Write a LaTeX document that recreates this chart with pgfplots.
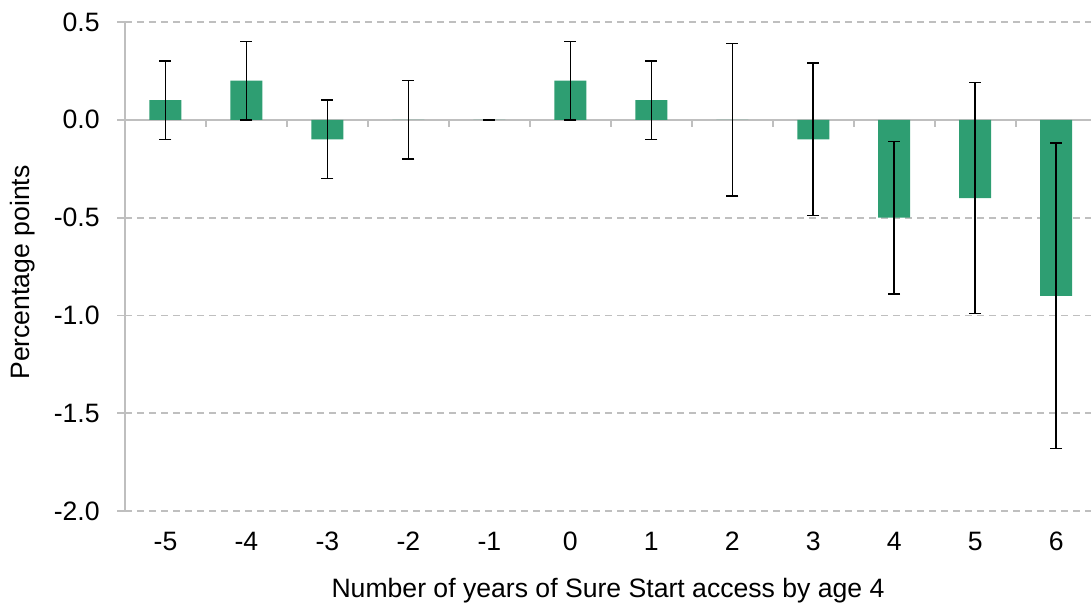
\documentclass[border=0pt]{standalone}
\usepackage{pgfplots}
\pgfplotsset{compat=1.18}
\usepackage{fontspec}
\setmainfont{Liberation Sans}
\definecolor{barg}{HTML}{2E9E72}
\definecolor{axg}{HTML}{BFBFBF}

\pgfplotstableread{
x  y     ep    em
0  0.1   0.2   0.2
1  0.2   0.2   0.2
2  -0.1  0.2   0.2
3  0.0   0.2   0.2
4  0.0   0.0   0.0
5  0.2   0.2   0.2
6  0.1   0.2   0.2
7  0.0   0.39  0.39
8  -0.1  0.39  0.39
9  -0.5  0.39  0.39
10 -0.4  0.59  0.59
11 -0.9  0.78  0.78
}\sures

\begin{document}
\begin{tikzpicture}
\useasboundingbox (-62.5pt,-45.5pt) rectangle (483pt,255.5pt);
\begin{axis}[
    at={(0,0)}, anchor=south west,
    scale only axis, width=483pt, height=244.5pt,
    xmin=-0.5, xmax=11.43, ymin=-2, ymax=0.5,
    font=\fontsize{13.3}{16}\selectfont,
    axis lines*=left,
    x axis line style={draw=none},
    y axis line style={axg, line width=0.9pt},
    tick align=outside,
    major tick length=4pt,
    xtick={0,...,11},
    xticklabels={-5,-4,-3,-2,-1,0,1,2,3,4,5,6},
    xtick style={draw=none},
    ytick={-2,-1.5,-1,-0.5,0.5},
    yticklabels={-2.0,-1.5,-1.0,-0.5,0.5},
    ytick style={axg, line width=0.9pt},
    extra y ticks={0},
    extra y tick labels={0.0},
    extra y tick style={grid=major, major grid style={solid, axg, line width=0.9pt}},
    ymajorgrids,
    major grid style={axg, line width=0.9pt, dash pattern=on 3.5pt off 2.5pt},
    yticklabel style={inner sep=0pt, anchor=east, xshift=-8.5pt},
    xticklabel style={inner sep=0pt, anchor=north, yshift=-6.5pt},
    xlabel={Number of years of Sure Start access by age 4},
    xlabel style={at={(axis description cs:0.5,0)}, anchor=base, inner sep=0pt, yshift=-43pt},
    ylabel={Percentage points},
    ylabel style={at={(axis description cs:-0.119,0.5)}, anchor=north, inner sep=0pt, xshift=-3pt},
    clip=false,
]
\addplot[ybar, bar width=16pt, fill=barg, draw=none,
    error bars/.cd, y dir=both, y explicit,
    error bar style={black, line width=0.8pt},
    error mark options={black, mark size=3pt, line width=0.8pt, rotate=90}]
    table[x=x, y=y, y error plus=ep, y error minus=em] {\sures};
\pgfplotsinvokeforeach{0.5,1.5,2.5,3.5,4.5,5.5,6.5,7.5,8.5,9.5,10.5}{
    \draw[axg, line width=0.9pt] (axis cs:#1,0) -- ++(0pt,-3.5pt);
}
\end{axis}
\end{tikzpicture}
\end{document}
